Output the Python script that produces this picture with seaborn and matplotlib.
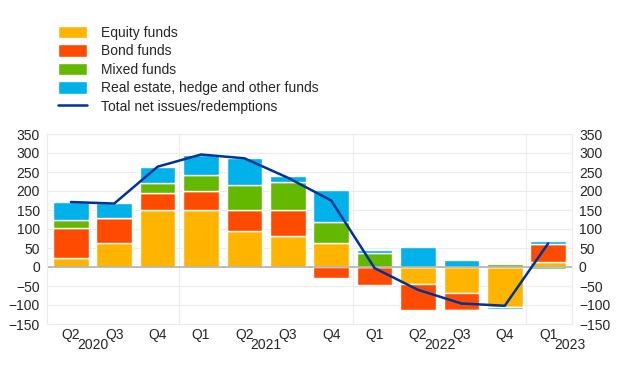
import numpy as np
import pandas as pd
import matplotlib
matplotlib.use("Agg")
import matplotlib.pyplot as plt
import matplotlib.transforms as mtransforms
import seaborn as sns

quarters = ["Q2", "Q3", "Q4", "Q1", "Q2", "Q3", "Q4", "Q1", "Q2", "Q3", "Q4", "Q1"]
years = ["2020", "2021", "2022", "2023"]
year_pos = [0.5, 4.5, 8.5, 11.5]

equity = [25, 64, 149, 149, 96, 81, 63, 0, -46, -69, -104, 13]
bond = [77, 64, 46, 52, 53, 68, -28, -48, -66, -43, 0, 48]
mixed = [21, 0, 26, 42, 68, 74, 56, 36, 0, -4, 7, -5]
other = [48, 40, 43, 52, 69, 16, 84, 10, 52, 19, -6, 7]
total = [171, 167, 264, 296, 286, 235, 175, -3, -60, -96, -102, 62]

labels = ["Equity funds", "Bond funds", "Mixed funds", "Real estate, hedge and other funds"]
colors = ["#FFB400", "#FF4B00", "#65B800", "#00B1EA"]
line_color = "#003299"

sns.set_style("white")
plt.rcParams["font.family"] = ["Liberation Sans", "DejaVu Sans"]

fig = plt.figure(figsize=(6.2, 3.87), dpi=100)
ax = fig.add_axes([47 / 620, 1 - 324 / 387, 525 / 620, 190 / 387])

x = np.arange(len(quarters))
pos_bottom = np.zeros(len(x))
neg_bottom = np.zeros(len(x))
handles = []
for vals, lab, col in zip([equity, bond, mixed, other], labels, colors):
    v = np.array(vals, dtype=float)
    bottom = np.where(v >= 0, pos_bottom, neg_bottom)
    b = ax.bar(x, v, bottom=bottom, width=0.82, color=col, label=lab, zorder=2)
    handles.append(b)
    pos_bottom += np.where(v >= 0, v, 0)
    neg_bottom += np.where(v < 0, v, 0)

df = pd.DataFrame({"x": x, "total": total})
sns.lineplot(data=df, x="x", y="total", ax=ax, color=line_color, linewidth=1.8,
             label="Total net issues/redemptions", legend=False, zorder=3)
line_handle = ax.get_lines()[-1]

ax.set_ylim(-150, 350)
ax.set_xlim(-0.55, 11.55)
ax.set_yticks(range(-150, 351, 50))
ax.yaxis.grid(True, color="#ececec", linewidth=0.8, zorder=0)
for xv in [2.5, 6.5, 10.5]:
    ax.axvline(xv, color="#ececec", linewidth=0.8, zorder=0)
ax.axhline(0, color="#b3b3b3", linewidth=1.2, zorder=2.5)
for s in ax.spines.values():
    s.set_color("#ececec")
    s.set_linewidth(0.8)

ax.set_xticks(x)
ax.set_xticklabels(quarters, fontsize=10)
ax.tick_params(axis="x", length=0, pad=3)
ax.tick_params(axis="y", length=0, labelsize=10, labelright=True, pad=5)
ax.set_xlabel("")
ax.set_ylabel("")

trans = mtransforms.blended_transform_factory(ax.transData, ax.transAxes)
for yr, p in zip(years, year_pos):
    ax.text(p, -0.11, yr, transform=trans, ha="center", va="center", fontsize=10)

fig.legend(handles + [line_handle], labels + ["Total net issues/redemptions"],
           loc="upper left", bbox_to_anchor=(52 / 620, 1 - 20 / 387), frameon=False,
           fontsize=10, handlelength=2.1, handleheight=1.0, labelspacing=0.33,
           handletextpad=1.0, borderaxespad=0)

fig.savefig("out.png", dpi=100)
